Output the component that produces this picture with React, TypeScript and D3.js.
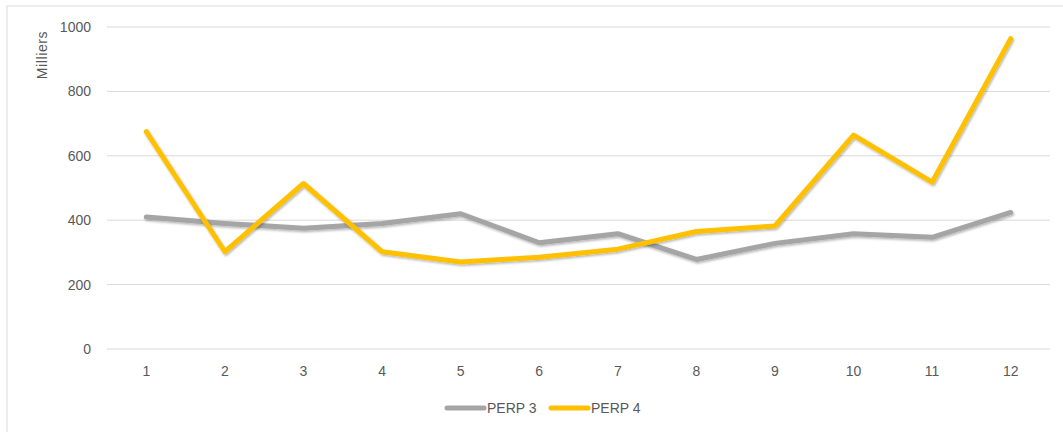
import React from "react";
import * as d3 from "d3";

const months = ["1", "2", "3", "4", "5", "6", "7", "8", "9", "10", "11", "12"];
const perp3 = [410, 390, 375, 390, 420, 330, 358, 278, 328, 358, 347, 424];
const perp4 = [675, 302, 514, 302, 270, 285, 310, 365, 382, 664, 518, 964];
const yTicks = [0, 200, 400, 600, 800, 1000];
const seriesNames = ["PERP 3", "PERP 4"];
const seriesColors = ["#a5a5a5", "#ffc000"];

const W = 1063;
const H = 432;
const left = 107;
const right = 1050;
const top = 27;
const bottom = 349;

export default function App() {
  const x = d3.scaleBand<string>().domain(months).range([left, right]);
  const y = d3.scaleLinear().domain([0, 1000]).range([bottom, top]);
  const line = d3
    .line<number>()
    .x((_, i) => (x(months[i]) as number) + x.bandwidth() / 2)
    .y((d) => y(d));
  const font = "'Liberation Sans', Arial, sans-serif";
  const series = [perp3, perp4];

  return (
    <svg
      width={W}
      height={H}
      style={{ position: "fixed", left: 0, top: 0, background: "#fff" }}
      fontFamily={font}
    >
      <defs>
        <filter id="shadow" x="-5%" y="-20%" width="110%" height="140%">
          <feDropShadow dx="1" dy="1.5" stdDeviation="1.2" floodColor="#000" floodOpacity="0.3" />
        </filter>
      </defs>
      <rect x={7} y={6} width={1070} height={440} fill="#fff" stroke="#d9d9d9" strokeWidth={1} />
      {yTicks.map((t) => (
        <g key={t}>
          <line x1={left} x2={right} y1={y(t)} y2={y(t)} stroke="#d9d9d9" strokeWidth={1} />
          <text x={91} y={y(t)} dy="0.35em" textAnchor="end" fontSize={14} fill="#595959">
            {t}
          </text>
        </g>
      ))}
      <text
        transform={`translate(47,55) rotate(-90)`}
        textAnchor="middle"
        fontSize={14}
        letterSpacing={0.6}
        fill="#595959"
      >
        Milliers
      </text>
      {months.map((m) => (
        <text
          key={m}
          x={(x(m) as number) + x.bandwidth() / 2}
          y={376}
          textAnchor="middle"
          fontSize={14}
          fill="#595959"
        >
          {m}
        </text>
      ))}
      {series.map((s, i) => (
        <path
          key={seriesNames[i]}
          d={line(s) as string}
          fill="none"
          stroke={seriesColors[i]}
          strokeWidth={5}
          strokeLinejoin="round"
          strokeLinecap="round"
          filter="url(#shadow)"
        />
      ))}
      {seriesNames.map((n, i) => {
        const lx = i === 0 ? 447 : 551;
        return (
          <g key={n}>
            <line x1={lx} x2={lx + 37} y1={408} y2={408} stroke={seriesColors[i]} strokeWidth={5} strokeLinecap="round" />
            <text x={lx + 40} y={408} dy="0.35em" fontSize={14} fill="#595959">
              {n}
            </text>
          </g>
        );
      })}
    </svg>
  );
}
